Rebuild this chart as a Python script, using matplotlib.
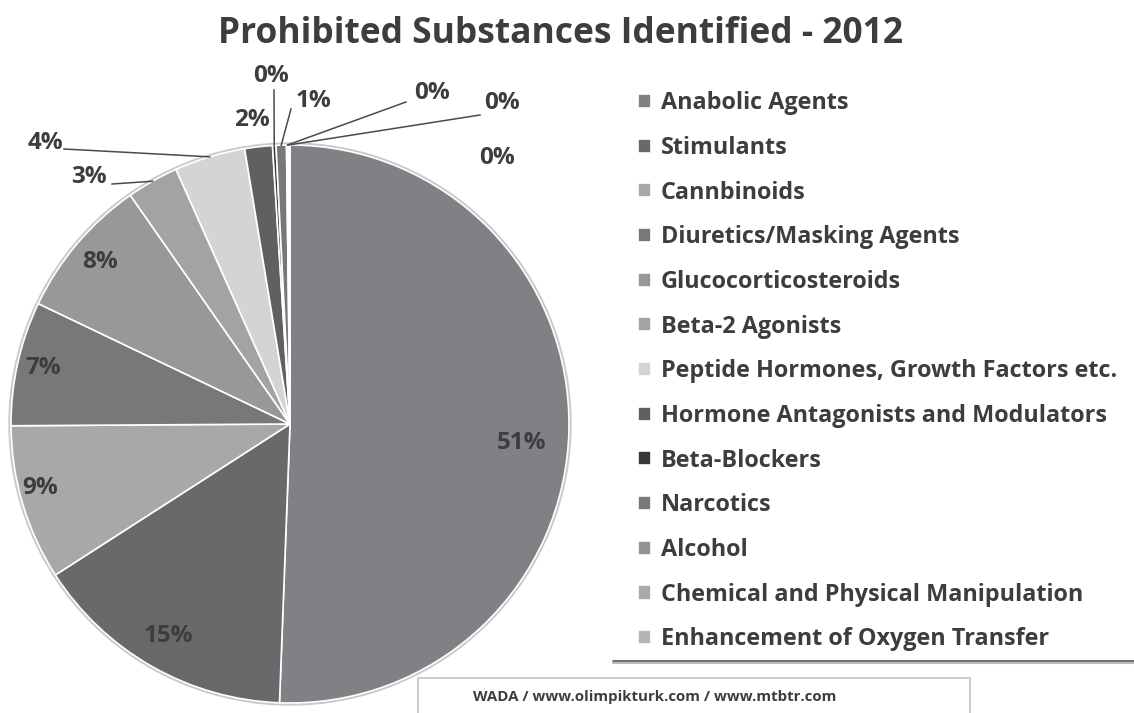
import matplotlib.pyplot as plt
import numpy as np

# data (share of identified substances, %)
categories = ['Anabolic Agents', 'Stimulants', 'Cannbinoids', 'Diuretics/Masking Agents',
              'Glucocorticosteroids', 'Beta-2 Agonists', 'Peptide Hormones, Growth Factors etc.',
              'Hormone Antagonists and Modulators', 'Beta-Blockers', 'Narcotics', 'Alcohol',
              'Chemical and Physical Manipulation', 'Enhancement of Oxygen Transfer']
shares = [50.6, 15.3, 9.0, 7.2, 8.2, 3.0, 4.1, 1.6, 0.2, 0.6, 0.1, 0.05, 0.05]

colors = ['#808184', '#69696b', '#a7a8aa', '#77787a', '#97989a', '#a2a3a5', '#d3d4d6',
          '#5f6062', '#38383a', '#77787a', '#939496', '#a9aaac', '#b4b5b7']

# label placement (pixel coords of the 1134x713 canvas, y from top) and leader start points
label_pos = [(522, 443), (168, 636), (40, 488), (43, 368), (100, 262), (89, 177), (45, 143),
             (252, 120), (271, 76), (313, 101), (432, 93), (502, 103), (497, 158)]
leader_start = [None, None, None, None, None, (112, 184), (64, 149),
                None, (274, 90), (291, 109), (406, 102), (480, 115), None]

W, H = 1134, 713
plt.rcParams['font.family'] = ['Open Sans', 'DejaVu Sans']
txt = '#3d3d3f'

fig = plt.figure(figsize=(W / 100, H / 100), dpi=100)
ax = fig.add_axes([0, 0, 1, 1])

cx, cy, R = 290, H - 424, 279

# faint rim like the original's bevel
ax.add_patch(plt.Circle((cx, cy), R + 2, color='#c9cacc', zorder=0))

wedges, _ = ax.pie(shares, colors=colors, startangle=90, counterclock=False,
                   radius=R, center=(cx, cy), frame=True,
                   wedgeprops=dict(edgecolor='white', linewidth=1.2))
ax.set_xlim(0, W)
ax.set_ylim(0, H)
ax.set_aspect('equal')
ax.axis('off')

for w, val, pos, start in zip(wedges, shares, label_pos, leader_start):
    ax.text(pos[0], H - pos[1], f'{val:.0f}%', ha='center', va='center',
            fontsize=17.5, fontweight='bold', color=txt, zorder=5)
    if start is not None:
        mid = np.deg2rad((w.theta1 + w.theta2) / 2)
        ex, ey = cx + R * np.cos(mid), cy + R * np.sin(mid)
        ax.plot([start[0], ex], [H - start[1], ey], color='#4a4a4c', lw=1.1, zorder=4)

fig.text(560 / W, 1 - 34 / H, 'Prohibited Substances Identified - 2012', ha='center', va='center',
         fontsize=25.5, fontweight='bold', color=txt)

# legend panel
leg = fig.legend(wedges, categories, loc='upper left', bbox_to_anchor=(629 / W, 1 - 82 / H),
                 frameon=False, fontsize=16.8, labelspacing=0.886, handlelength=0.55,
                 handleheight=0.55, handletextpad=0.4, borderaxespad=0)
for t in leg.get_texts():
    t.set_fontweight('bold')
    t.set_color(txt)
ax.plot([612, W], [H - 661, H - 661], color='#6f6f71', lw=2.2, solid_capstyle='butt')
ax.plot([612, W], [H - 663, H - 663], color='#bdbdbf', lw=1.5, solid_capstyle='butt')

# source box
ax.add_patch(plt.Rectangle((418, -5), 552, H - 678 + 5, facecolor='white',
                           edgecolor='#c4c4c6', lw=1.2, zorder=6))
ax.text(655, H - 697, 'WADA / www.olimpikturk.com / www.mtbtr.com', ha='center', va='center',
        fontsize=10.8, fontweight='bold', color=txt, zorder=7)

fig.savefig('out.png', dpi=100)
